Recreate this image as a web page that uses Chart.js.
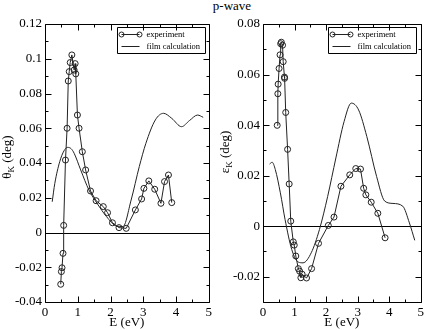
<!DOCTYPE html>
<html><head><meta charset="utf-8">
<script src="https://cdn.jsdelivr.net/npm/chart.js@4"></script>
<style>
html,body{margin:0;padding:0;background:#fff;}
body{width:427px;height:330px;position:relative;overflow:hidden;font-family:"Liberation Serif","Times New Roman",serif;}
#title{position:absolute;left:182px;width:100px;top:-2px;text-align:center;font-size:13px;color:#000;}
#c1{position:absolute;left:0;top:0;}
#c2{position:absolute;left:215px;top:0;}
</style>
</head><body>
<div id="title">p-wave</div>
<canvas id="c1" width="215" height="330"></canvas>
<canvas id="c2" width="212" height="330"></canvas>
<script>
// ---- data: Kerr rotation (left panel) ----
const thetaExpE = [0.48,0.50,0.52,0.55,0.57,0.625,0.675,0.71,0.74,0.77,0.82,0.89,0.92,0.94,0.99,1.04,1.14,1.24,1.39,1.56,1.78,1.91,2.06,2.26,2.48,2.76,2.95,3.02,3.17,3.35,3.54,3.65,3.77,3.87];
const thetaExp  = [-0.0298,-0.0225,-0.0203,-0.012,0.0041,0.0417,0.060,0.0872,0.0926,0.0978,0.1022,0.0935,0.0972,0.0913,0.0676,0.060,0.0465,0.036,0.0239,0.0183,0.0149,0.0114,0.0056,0.0028,0.0024,0.013,0.0193,0.0254,0.0297,0.0249,0.0168,0.0293,0.0331,0.0172];
const thetaCalcE = [0.22,0.30,0.45,0.58,0.69,0.80,0.89,1.09,1.34,1.59,1.88,2.18,2.38,2.63,2.88,3.08,3.37,3.62,3.87,4.17,4.41,4.66,4.83];
const thetaCalc  = [0.0177,0.0283,0.0408,0.0470,0.0490,0.0482,0.0456,0.036,0.0245,0.0168,0.0091,0.0037,0.0034,0.0187,0.038,0.0513,0.0648,0.0686,0.0657,0.0609,0.0644,0.0676,0.0663];
// ---- data: Kerr ellipticity (right panel) ----
const epsExpE = [0.45,0.47,0.48,0.51,0.54,0.56,0.58,0.62,0.64,0.68,0.685,0.72,0.78,0.83,0.88,0.96,0.99,1.04,1.12,1.16,1.20,1.24,1.38,1.54,1.76,2.07,2.25,2.47,2.75,2.94,3.09,3.19,3.26,3.43,3.64,3.87];
const epsExp  = [0.0399,0.0524,0.0562,0.0624,0.0678,0.0722,0.0728,0.0716,0.0651,0.059,0.0585,0.045,0.0304,0.0167,0.002,-0.0062,-0.0075,-0.0118,-0.0168,-0.0178,-0.0204,-0.019,-0.0205,-0.0168,-0.0068,0.0003,0.0036,0.0158,0.0203,0.0228,0.0226,0.015,0.0124,0.0095,0.0051,-0.0046];
const epsCalcE = [0.21,0.29,0.39,0.55,0.70,0.91,1.12,1.27,1.53,1.79,2.05,2.31,2.57,2.80,3.03,3.29,3.60,3.86,4.12,4.43,4.64,4.81];
const epsCalc  = [0.0246,0.0253,0.0224,0.0132,0.0026,-0.0092,-0.0142,-0.0145,-0.0105,-0.0013,0.0118,0.027,0.0414,0.0487,0.046,0.0355,0.0197,0.0099,0.009,0.0079,0.0013,-0.0056];
// ---- ticks ----
const xTicks = [0,1,2,3,4,5];
const thetaTicks = [-0.04,-0.02,0,0.02,0.04,0.06,0.08,0.1,0.12];
const epsTicks = [-0.02,0,0.02,0.04,0.06,0.08];
const seriesNames = ['experiment','film calculation'];
const xTitle = 'E (eV)';

const FONT = '"Liberation Serif","Times New Roman",serif';
const INK = '#222';

function pts(xs, ys){ return xs.map((x,i)=>({x:x,y:ys[i]})); }
function fmt(v){ return String(Number(v.toFixed(3))); }

const framePlugin = {
  id:'framePlugin',
  beforeDatasetsDraw(chart){
    const {ctx, chartArea:a, scales:{y}} = chart;
    const y0 = Math.round(y.getPixelForValue(0))+0.5;
    ctx.save(); ctx.strokeStyle='#000'; ctx.lineWidth=1;
    ctx.beginPath(); ctx.moveTo(a.left,y0); ctx.lineTo(a.right,y0); ctx.stroke();
    ctx.restore();
  },
  afterDraw(chart, args, o){
    const {ctx, chartArea:a, scales:{x,y}} = chart;
    ctx.save(); ctx.strokeStyle='#000'; ctx.lineWidth=1;
    const L=Math.round(a.left)+0.5, R=Math.round(a.right)+0.5, T=Math.round(a.top)+0.5, B=Math.round(a.bottom)+0.5;
    ctx.beginPath(); ctx.rect(L,T,R-L,B-T); ctx.stroke();
    const big=6, small=3;
    for(let k=0;;k++){
      const v = x.min + k*o.xMinor; if(v > x.max+1e-9) break;
      const isMajor = Math.abs(v/o.xMajor - Math.round(v/o.xMajor))<1e-6;
      const len = isMajor?big:small;
      const px = Math.round(x.getPixelForValue(v))+0.5;
      ctx.beginPath(); ctx.moveTo(px,B); ctx.lineTo(px,B-len); ctx.moveTo(px,T); ctx.lineTo(px,T+len); ctx.stroke();
    }
    for(let k=0;;k++){
      const v = y.min + k*o.yMinor; if(v > y.max+1e-9) break;
      const isMajor = Math.abs(v/o.yMajor - Math.round(v/o.yMajor))<1e-6;
      const len = isMajor?big:small;
      const py = Math.round(y.getPixelForValue(v))+0.5;
      ctx.beginPath(); ctx.moveTo(L,py); ctx.lineTo(L+len,py); ctx.moveTo(R,py); ctx.lineTo(R-len,py); ctx.stroke();
    }
    // legend
    const bw=88, bh=26;
    const bx = Math.round(a.right - o.legRight - bw)+0.5, by = Math.round(a.top + 3)+0.5;
    ctx.beginPath(); ctx.rect(bx,by,bw,bh); ctx.stroke();
    ctx.strokeStyle=INK;
    const r1 = by+7, r2 = by+19;
    ctx.beginPath(); ctx.moveTo(bx+4,r1); ctx.lineTo(bx+22,r1); ctx.stroke();
    ctx.beginPath(); ctx.arc(bx+4,r1,2.5,0,Math.PI*2); ctx.stroke();
    ctx.beginPath(); ctx.arc(bx+22,r1,2.5,0,Math.PI*2); ctx.stroke();
    ctx.beginPath(); ctx.moveTo(bx+4,r2); ctx.lineTo(bx+22,r2); ctx.stroke();
    ctx.fillStyle='#000'; ctx.font='8.5px '+FONT; ctx.textBaseline='middle'; ctx.textAlign='left';
    ctx.fillText(chart.data.datasets[0].label, bx+29, r1);
    ctx.fillText(chart.data.datasets[1].label, bx+29, r2);
    // y title with subscript
    ctx.save();
    ctx.translate(o.titleX, o.titleY);
    ctx.rotate(-Math.PI/2);
    ctx.textBaseline='middle';
    const f1='13px '+FONT, f2='9px '+FONT;
    ctx.font=f1; const w1=ctx.measureText(o.sym).width;
    ctx.font=f2; const w2=ctx.measureText('K').width;
    ctx.font=f1; const w3=ctx.measureText(' (deg)').width;
    let sx = -(w1+w2+w3)/2;
    ctx.font=f1; ctx.textAlign='left'; ctx.fillText(o.sym, sx, 0); sx+=w1;
    ctx.font=f2; ctx.fillText('K', sx, 4); sx+=w2;
    ctx.font=f1; ctx.fillText(' (deg)', sx, 0);
    ctx.restore();
    ctx.restore();
  }
};

function makeChart(id, expE, expV, calcE, calcV, yMin, yMax, yTickList, yWidth, padRight, pluginOpts){
  return new Chart(document.getElementById(id), {
    type:'line',
    data:{datasets:[
      {label:seriesNames[0], data:pts(expE,expV), borderColor:INK, borderWidth:1, tension:0,
       pointRadius:3, pointBorderWidth:1, pointBackgroundColor:'rgba(0,0,0,0)', pointBorderColor:INK, fill:false},
      {label:seriesNames[1], data:pts(calcE,calcV), borderColor:INK, borderWidth:1, tension:0.3,
       cubicInterpolationMode:'monotone', pointRadius:0, fill:false}
    ]},
    options:{
      responsive:false, animation:false, devicePixelRatio:1,
      layout:{padding:{left:0,right:padRight,top:24,bottom:0}},
      plugins:{legend:{display:false}, tooltip:{enabled:false}, title:{display:false}, framePlugin:pluginOpts},
      scales:{
        x:{type:'linear', min:0, max:5,
           afterBuildTicks(s){ s.ticks = xTicks.map(v=>({value:v})); },
           afterFit(s){ s.height = 28; },
           grid:{display:false, drawTicks:false}, border:{display:false},
           ticks:{padding:3, color:'#000', font:{family:FONT,size:13}, maxRotation:0, callback:v=>fmt(v)},
           title:{display:true, text:xTitle, color:'#000', font:{family:FONT,size:13}, padding:{top:0,bottom:0}}},
        y:{type:'linear', min:yMin, max:yMax,
           afterBuildTicks(s){ s.ticks = yTickList.map(v=>({value:v})); },
           afterFit(s){ s.width = yWidth; },
           grid:{display:false, drawTicks:false}, border:{display:false},
           ticks:{padding:3, color:'#000', font:{family:FONT,size:13}, callback:v=>fmt(v)}}
      }
    },
    plugins:[framePlugin]
  });
}

makeChart('c1', thetaExpE, thetaExp, thetaCalcE, thetaCalc, -0.04, 0.12, thetaTicks, 45, 2,
  {xMajor:1, xMinor:0.5, yMajor:0.02, yMinor:0.01, legRight:4, titleX:8, titleY:157, sym:'\u03B8'});
makeChart('c2', epsExpE, epsExp, epsCalcE, epsCalc, -0.03, 0.08, epsTicks, 48, 3,
  {xMajor:1, xMinor:0.5, yMajor:0.02, yMinor:0.01, legRight:5, titleX:11, titleY:152, sym:'\u03B5'});
</script>
</body></html>
